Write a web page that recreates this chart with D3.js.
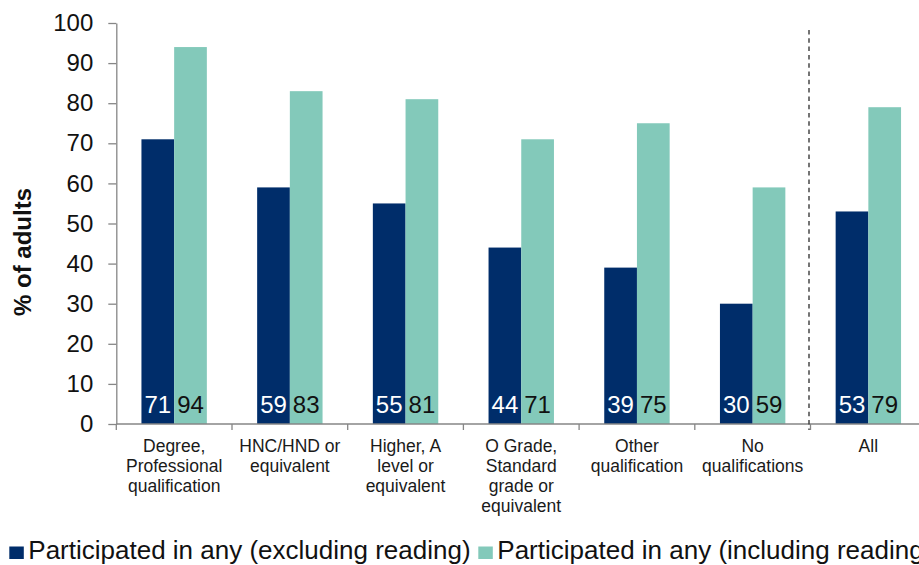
<!DOCTYPE html>
<html>
<head>
<meta charset="utf-8">
<script src="https://cdn.jsdelivr.net/npm/d3@7"></script>
<style>
  html, body { margin: 0; padding: 0; background: #fff; }
  svg { display: block; font-family: "Liberation Sans", Arial, sans-serif; }
</style>
</head>
<body>
<svg id="chart" width="919" height="565"></svg>
<script>
// Cultural participation by highest qualification
const categories = [
  "Degree, Professional qualification",
  "HNC/HND or equivalent",
  "Higher, A level or equivalent",
  "O Grade, Standard grade or equivalent",
  "Other qualification",
  "No qualifications",
  "All"
];
const categoryLines = [
  ["Degree,", "Professional", "qualification"],
  ["HNC/HND or", "equivalent"],
  ["Higher, A", "level or", "equivalent"],
  ["O Grade,", "Standard", "grade or", "equivalent"],
  ["Other", "qualification"],
  ["No", "qualifications"],
  ["All"]
];
const seriesNames = [
  "Participated in any (excluding reading)",
  "Participated in any (including reading)"
];
const excludingReading = [71, 59, 55, 44, 39, 30, 53];
const includingReading = [94, 83, 81, 71, 75, 59, 79];
const yTicks = [0, 10, 20, 30, 40, 50, 60, 70, 80, 90, 100];

const colors = ["#002D6A", "#83C9BA"];
const labelColors = ["#ffffff", "#111111"];

const svg = d3.select("#chart");

const x0 = 116.3, bandW = 115.7;
const x = d3.scaleBand()
  .domain(categories)
  .range([x0, x0 + bandW * categories.length])
  .paddingInner(0).paddingOuter(0);

const y = d3.scaleLinear().domain([0, 100]).range([424, 23]);

const sub = d3.scaleBand()
  .domain([0, 1])
  .range([0, x.bandwidth()])
  .paddingInner(0)
  .paddingOuter(0.769);

const series = [excludingReading, includingReading];

// Bars
series.forEach((vals, si) => {
  svg.append("g").selectAll("rect")
    .data(categories)
    .join("rect")
    .attr("x", (c) => x(c) + sub(si))
    .attr("y", (c, i) => y(vals[i]))
    .attr("width", sub.bandwidth())
    .attr("height", (c, i) => y(0) - y(vals[i]))
    .attr("fill", colors[si]);
});

// Value labels at the foot of each bar
series.forEach((vals, si) => {
  svg.append("g").selectAll("text")
    .data(categories)
    .join("text")
    .attr("x", (c) => x(c) + sub(si) + sub.bandwidth() / 2)
    .attr("y", y(0) - 11)
    .attr("text-anchor", "middle")
    .attr("font-size", 24)
    .attr("fill", labelColors[si])
    .text((c, i) => vals[i]);
});

// Y axis
const yAxis = svg.append("g")
  .attr("transform", `translate(${x0},0)`)
  .call(d3.axisLeft(y).tickValues(yTicks).tickSize(8).tickPadding(15).tickSizeOuter(0));
yAxis.select(".domain").attr("stroke", "#868686").attr("stroke-width", 1.3);
yAxis.selectAll(".tick line").attr("stroke", "#868686").attr("stroke-width", 1.3);
yAxis.selectAll(".tick text")
  .attr("font-size", 24)
  .attr("font-family", "Liberation Sans, Arial, sans-serif")
  .attr("fill", "#111");

// X axis with category boundary ticks
const boundaries = d3.range(categories.length + 1).map((i) => x0 + i * bandW);
svg.append("line")
  .attr("x1", x0).attr("x2", x0 + bandW * categories.length)
  .attr("y1", y(0)).attr("y2", y(0))
  .attr("stroke", "#868686").attr("stroke-width", 1.3);
svg.append("g").selectAll("line")
  .data(boundaries)
  .join("line")
  .attr("x1", (d) => d).attr("x2", (d) => d)
  .attr("y1", y(0)).attr("y2", y(0) + 6)
  .attr("stroke", "#868686").attr("stroke-width", 1.3);

// Category labels
const catG = svg.append("g").selectAll("text")
  .data(categories)
  .join("text")
  .attr("text-anchor", "middle")
  .attr("font-size", 17.5)
  .attr("fill", "#1a1a1a");
catG.each(function (c, i) {
  const t = d3.select(this);
  categoryLines[i].forEach((line, li) => {
    t.append("tspan")
      .attr("x", x(c) + x.bandwidth() / 2)
      .attr("y", 451.7 + li * 20)
      .text(line);
  });
});

// Dashed separator before the "All" group
const sepX = x("All") - 1.5;
svg.append("line")
  .attr("x1", sepX).attr("x2", sepX)
  .attr("y1", 30).attr("y2", y(0) + 6)
  .attr("stroke", "#3a3a3a")
  .attr("stroke-width", 1.4)
  .attr("stroke-dasharray", "4.5,3.8");

// Y axis title
svg.append("text")
  .attr("transform", `translate(31,252) rotate(-90)`)
  .attr("text-anchor", "middle")
  .attr("font-size", 24)
  .attr("font-weight", "bold")
  .attr("fill", "#111")
  .text("% of adults");

// Legend
const legendX = [9.3, 478.3];
const legend = svg.append("g").selectAll("g")
  .data(seriesNames)
  .join("g")
  .attr("transform", (d, i) => `translate(${legendX[i]},0)`);
legend.append("rect")
  .attr("x", 0).attr("y", 546.5)
  .attr("width", 14.5).attr("height", 12.5)
  .attr("fill", (d, i) => colors[i]);
legend.append("text")
  .attr("x", 19)
  .attr("y", 559.3)
  .attr("font-size", 26)
  .attr("fill", "#111")
  .text((d) => d);
</script>
</body>
</html>
